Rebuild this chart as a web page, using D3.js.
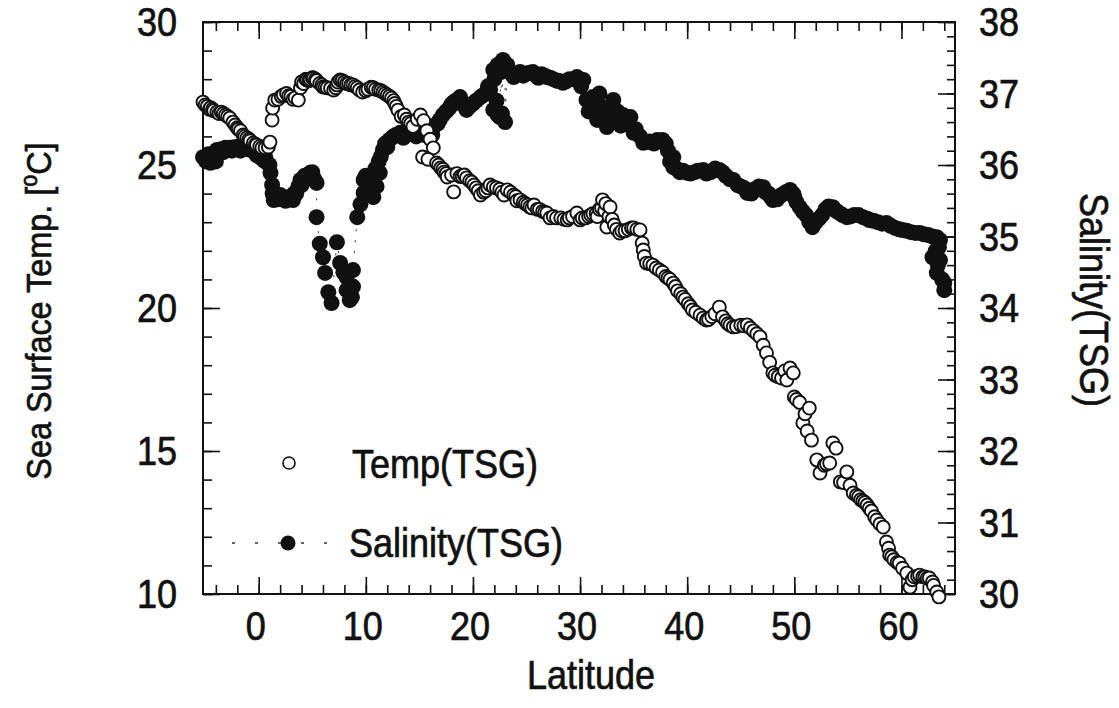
<!DOCTYPE html>
<html><head><meta charset="utf-8">
<script src="https://cdn.jsdelivr.net/npm/d3@7"></script>
<style>
html,body{margin:0;padding:0;background:#fff;}
svg{display:block;}
text{font-family:"Liberation Sans",Arial,Helvetica,sans-serif;fill:#111;stroke:#111;stroke-width:0.7px;}
</style></head><body>
<svg id="chart" width="1119" height="708"></svg>
<script>
// ---------- data ----------
const latTicks = [0, 10, 20, 30, 40, 50, 60];
const tempTicks = [10, 15, 20, 25, 30];
const salTicks = [30, 31, 32, 33, 34, 35, 36, 37, 38];

// [latitude, sea surface temperature °C]
const tempSeries = [[-5.2,27.2],[-5.0,27.1],[-4.8,27.05],[-4.6,26.95],[-4.5,27.0],[-4.3,26.95],[-4.2,26.9],[-3.9,26.85],[-3.7,26.8],[-3.5,26.85],[-3.3,26.8],[-3.1,26.75],[-2.9,26.7],[-2.7,26.64],[-2.4,26.5],[-2.2,26.4],[-2.0,26.3],[-1.9,26.25],[-1.7,26.2],[-1.45,26.05],[-1.3,26.0],[-1.1,25.95],[-0.9,25.9],[-0.8,25.85],[-0.5,25.77],[-0.3,25.72],[-0.2,25.7],[0.1,25.65],[0.3,25.6],[0.6,25.6],[0.9,25.63],[1.05,25.8],[1.25,26.57],[1.3,26.99],[1.5,27.27],[1.8,27.3],[2.1,27.4],[2.3,27.45],[2.6,27.5],[2.8,27.42],[3.0,27.4],[3.2,27.3],[3.4,27.35],[3.7,27.27],[3.9,27.7],[4.0,27.9],[4.2,27.85],[4.4,28.0],[4.5,27.97],[4.7,27.95],[4.8,28.0],[5.0,28.05],[5.1,28.04],[5.3,28.0],[5.4,27.95],[5.7,27.85],[5.9,27.8],[6.0,27.73],[6.2,27.72],[6.4,27.7],[6.7,27.68],[7.0,27.62],[7.2,27.7],[7.3,27.8],[7.4,27.9],[7.6,27.97],[7.8,27.95],[8.0,27.9],[8.2,27.85],[8.4,27.85],[8.6,27.8],[8.8,27.8],[9.0,27.75],[9.2,27.7],[9.4,27.62],[9.7,27.55],[10.0,27.6],[10.2,27.65],[10.5,27.72],[10.7,27.7],[10.9,27.65],[11.2,27.62],[11.4,27.6],[11.6,27.55],[11.8,27.5],[12.0,27.45],[12.2,27.4],[12.4,27.34],[12.6,27.25],[12.7,27.15],[12.85,27.05],[13.0,26.92],[13.3,26.7],[13.6,26.75],[13.8,26.6],[14.0,26.5],[14.2,26.45],[14.4,26.35],[14.8,26.6],[15.1,26.75],[15.4,26.55],[15.7,26.2],[16.0,25.9],[16.3,25.6],[15.3,25.28],[15.8,25.2],[16.6,25.07],[16.8,25.0],[17.0,24.9],[17.2,24.85],[17.3,24.75],[17.5,24.7],[17.6,24.58],[18.0,24.65],[18.2,24.06],[18.5,24.7],[18.8,24.6],[19.0,24.6],[19.2,24.65],[19.4,24.55],[19.7,24.45],[19.9,24.4],[20.1,24.3],[20.3,24.2],[20.5,24.1],[20.7,23.95],[21.0,24.05],[21.2,24.1],[21.4,24.2],[21.6,24.3],[21.9,24.23],[22.2,24.2],[22.5,24.15],[22.7,24.05],[22.9,23.95],[23.2,24.13],[23.5,24.05],[23.8,23.95],[24.0,23.9],[24.1,23.75],[24.4,23.78],[24.7,23.7],[24.9,23.65],[25.1,23.6],[25.3,23.53],[25.5,23.5],[25.7,23.6],[26.0,23.45],[26.2,23.45],[26.5,23.38],[26.7,23.35],[26.9,23.32],[27.2,23.15],[27.5,23.2],[27.8,23.15],[28.2,23.15],[28.5,23.1],[28.8,23.08],[29.0,23.15],[29.3,23.2],[29.7,23.32],[30.0,23.08],[30.2,23.15],[30.5,23.15],[30.8,23.2],[31.0,23.25],[31.2,23.3],[31.5,23.3],[31.6,23.2],[31.8,23.45],[32.0,23.5],[32.1,23.78],[32.3,23.4],[32.4,23.65],[32.5,22.83],[32.7,23.2],[32.8,23.53],[33.0,23.1],[33.2,22.9],[33.4,22.75],[33.7,22.62],[33.9,22.7],[34.2,22.7],[34.5,22.75],[34.8,22.8],[35.0,22.8],[35.3,22.75],[35.6,22.73],[35.8,22.27],[35.9,22.03],[36.0,21.8],[36.2,21.57],[36.5,21.55],[36.8,21.5],[37.1,21.4],[37.4,21.33],[37.7,21.25],[38.0,21.1],[38.2,21.05],[38.4,21.0],[38.7,20.87],[38.9,20.75],[39.1,20.6],[39.4,20.5],[39.6,20.38],[39.8,20.3],[40.1,20.15],[40.3,20.05],[40.5,19.93],[40.8,19.85],[41.2,19.75],[41.5,19.65],[41.8,19.58],[42.0,19.6],[42.3,19.7],[42.6,19.8],[43.0,20.03],[43.3,19.69],[43.6,19.55],[43.8,19.45],[44.0,19.4],[44.3,19.34],[44.6,19.35],[45.0,19.4],[45.3,19.38],[45.6,19.41],[45.9,19.3],[46.2,19.2],[46.5,19.1],[46.8,18.99],[47.1,18.7],[47.4,18.43],[47.7,18.1],[48.0,17.73],[48.2,17.65],[48.5,17.6],[48.8,17.55],[49.1,17.8],[49.3,17.48],[49.6,17.9],[49.9,17.73],[50.0,16.89],[50.2,16.8],[50.5,16.7],[50.8,15.98],[51.0,16.3],[51.2,15.7],[51.4,16.5],[51.6,15.38],[52.1,14.69],[52.4,14.23],[52.8,14.5],[53.0,14.55],[53.3,14.58],[53.6,15.28],[53.9,15.1],[54.3,13.92],[54.6,13.9],[54.9,14.27],[55.2,13.8],[55.5,13.53],[55.8,13.45],[56.0,13.4],[56.2,13.3],[56.4,13.25],[56.6,13.2],[56.8,13.11],[57.0,13.0],[57.2,12.9],[57.5,12.7],[57.7,12.59],[58.0,12.45],[58.3,12.34],[58.6,11.82],[58.8,11.6],[58.9,11.36],[59.1,11.3],[59.3,11.2],[59.6,11.1],[59.8,11.08],[60.1,10.9],[60.5,10.73],[60.8,10.24],[61.0,10.5],[61.2,10.6],[61.5,10.62],[61.7,10.66],[62.0,10.6],[62.2,10.6],[62.4,10.55],[62.6,10.56],[62.9,10.42],[63.0,10.3],[63.3,10.07],[63.5,9.9]];

// [latitude, salinity]
const salSeries = [[-5.2,36.11],[-4.9,36.05],[-4.7,36.15],[-4.5,36.03],[-4.2,36.12],[-4.0,36.05],[-3.9,36.21],[-3.5,36.22],[-3.3,36.18],[-3.1,36.24],[-2.7,36.24],[-2.5,36.2],[-2.3,36.25],[-1.9,36.26],[-1.7,36.2],[-1.4,36.24],[-1.2,36.28],[-1.0,36.22],[-0.6,36.2],[-0.4,36.25],[-0.2,36.14],[0.0,36.18],[0.2,36.1],[0.5,36.06],[0.6,36.12],[0.8,36.03],[1.0,36.0],[1.1,35.89],[1.25,35.72],[1.3,35.6],[1.4,35.51],[1.5,35.6],[1.8,35.52],[2.0,35.58],[2.3,35.55],[2.5,35.5],[2.7,35.52],[3.0,35.56],[3.2,35.51],[3.3,35.6],[3.5,35.6],[3.7,35.7],[3.9,35.79],[4.0,35.72],[4.3,35.85],[4.5,35.82],[4.8,35.89],[5.0,35.9],[5.1,35.82],[5.2,35.8],[5.4,35.75],[5.4,35.27],[5.7,34.9],[6.0,34.71],[6.2,34.49],[6.5,34.22],[6.8,34.07],[7.3,34.92],[7.6,34.63],[7.9,34.5],[8.2,34.43],[8.2,34.25],[8.5,34.11],[8.7,34.15],[8.8,34.3],[8.8,34.53],[9.2,35.27],[9.5,35.45],[9.8,35.61],[9.8,35.79],[10.0,35.85],[10.2,35.7],[10.5,35.8],[10.7,35.55],[10.9,35.95],[11.0,35.7],[11.2,36.05],[11.3,35.89],[11.4,36.12],[11.6,36.21],[11.8,36.3],[12.0,36.25],[12.2,36.35],[12.5,36.39],[12.8,36.42],[13.2,36.45],[13.5,36.38],[13.8,36.48],[14.0,36.55],[14.4,36.49],[14.7,36.4],[15.0,36.47],[15.2,36.55],[15.5,36.42],[15.8,36.5],[16.0,36.45],[16.2,36.42],[16.4,36.55],[16.7,36.58],[16.9,36.63],[17.2,36.7],[17.5,36.75],[17.8,36.8],[18.0,36.85],[18.2,36.88],[18.5,36.91],[18.8,36.95],[19.0,36.85],[19.4,36.77],[19.7,36.82],[20.0,36.86],[20.3,36.9],[20.7,36.95],[21.0,36.98],[21.2,37.0],[21.4,37.1],[21.6,37.05],[21.9,37.33],[22.0,37.2],[22.3,37.4],[22.6,37.3],[22.8,37.47],[23.0,37.42],[23.2,37.4],[23.4,37.3],[21.9,36.77],[22.2,36.9],[22.3,36.7],[22.5,36.67],[22.7,36.72],[23.0,36.6],[23.8,37.23],[24.0,37.28],[24.4,37.3],[24.7,37.25],[25.0,37.28],[25.3,37.29],[25.6,37.3],[25.9,37.25],[26.1,37.22],[26.4,37.27],[26.7,37.25],[26.9,37.23],[27.2,37.22],[27.5,37.2],[27.8,37.18],[28.0,37.18],[28.4,37.15],[28.7,37.17],[29.0,37.2],[29.4,37.2],[29.7,37.23],[30.0,37.2],[30.1,37.1],[30.3,37.19],[30.6,36.91],[30.8,36.75],[31.0,36.85],[31.2,36.95],[31.6,36.63],[31.8,37.0],[32.0,36.7],[32.2,36.8],[32.5,36.53],[32.8,36.65],[33.1,36.91],[33.3,36.6],[33.5,36.75],[33.8,36.55],[34.0,36.7],[34.4,36.6],[34.7,36.67],[35.0,36.45],[35.2,36.5],[35.6,36.4],[35.9,36.31],[36.2,36.32],[36.5,36.33],[36.9,36.3],[37.2,36.35],[37.5,36.33],[37.7,36.35],[38.0,36.3],[38.2,36.2],[38.4,36.05],[38.7,36.11],[38.7,35.97],[39.0,35.95],[39.3,35.9],[39.6,35.92],[40.0,35.89],[40.3,35.88],[40.7,35.9],[41.0,35.92],[41.5,35.93],[41.8,35.88],[42.2,35.9],[42.6,35.95],[43.0,35.93],[43.3,35.9],[43.6,35.85],[44.0,35.8],[44.3,35.79],[44.7,35.72],[45.0,35.7],[45.3,35.68],[45.6,35.61],[46.0,35.6],[46.3,35.66],[46.7,35.7],[47.1,35.69],[47.3,35.62],[47.6,35.6],[47.8,35.55],[48.0,35.51],[48.4,35.52],[48.8,35.58],[49.2,35.62],[49.6,35.65],[49.9,35.6],[50.0,35.55],[50.2,35.48],[50.5,35.41],[50.8,35.35],[51.1,35.3],[51.4,35.2],[51.7,35.13],[52.0,35.2],[52.3,35.25],[52.6,35.3],[52.9,35.38],[53.2,35.42],[53.6,35.41],[53.9,35.36],[54.2,35.33],[54.5,35.3],[54.9,35.27],[55.2,35.28],[55.6,35.3],[56.0,35.3],[56.4,35.27],[56.8,35.25],[57.0,35.23],[57.4,35.22],[57.8,35.2],[58.2,35.18],[58.6,35.19],[59.0,35.15],[59.4,35.12],[59.8,35.1],[60.1,35.09],[60.5,35.08],[60.9,35.06],[61.3,35.05],[61.7,35.05],[62.1,35.03],[62.5,35.02],[62.9,35.0],[63.3,34.99],[63.6,34.95],[63.5,34.85],[63.2,34.8],[62.9,34.71],[63.6,34.67],[63.4,34.6],[63.3,34.49],[63.8,34.4],[64.0,34.35],[64.0,34.25]];

// ---------- chart ----------
const svg = d3.select("#chart");
const L = 203, R = 955, T = 22, B = 594;
const x = d3.scaleLinear().domain([-5.2, 65]).range([L, R]);
const yT = d3.scaleLinear().domain([10, 30]).range([B, T]);
const yS = d3.scaleLinear().domain([30, 38]).range([B, T]);

const SX = 0.9; // condensed look of the original lettering
function txt(g, x0, y0, s, size, anchor, rot) {
  return g.append("text")
    .attr("transform", `translate(${x0},${y0}) rotate(${rot || 0}) scale(${SX},1)`)
    .attr("font-size", size).attr("text-anchor", anchor || "start").text(s);
}

function tickAxis(axisFn, scale, vals, size, tr) {
  const g = svg.append("g").attr("transform", tr)
    .call(axisFn(scale).tickValues(vals).tickSizeInner(-size).tickSizeOuter(0).tickFormat(""));
  g.select(".domain").remove();
  g.selectAll("line").attr("stroke", "#111").attr("stroke-width", 1.6);
}
const xMinor = d3.range(-4, 65, 2);
tickAxis(d3.axisBottom, x, xMinor, 9, `translate(0,${B})`);
tickAxis(d3.axisBottom, x, latTicks, 17, `translate(0,${B})`);
tickAxis(d3.axisTop, x, xMinor, 9, `translate(0,${T})`);
tickAxis(d3.axisTop, x, latTicks, 17, `translate(0,${T})`);
tickAxis(d3.axisLeft, yT, d3.range(10, 31, 1), 9, `translate(${L},0)`);
tickAxis(d3.axisLeft, yT, tempTicks, 17, `translate(${L},0)`);
tickAxis(d3.axisRight, yS, d3.range(0, 41).map(i => 30 + i * 0.2), 8, `translate(${R},0)`);
tickAxis(d3.axisRight, yS, salTicks, 17, `translate(${R},0)`);

svg.append("rect").attr("x", L).attr("y", T).attr("width", R - L).attr("height", B - T)
  .attr("fill", "none").attr("stroke", "#111").attr("stroke-width", 2);

// tick labels
const lab = svg.append("g");
latTicks.forEach(v => txt(lab, x(v) - 3, 640, String(v), 40, "middle"));
tempTicks.forEach(v => txt(lab, 177, yT(v) + 14, String(v), 40, "end"));
salTicks.forEach(v => txt(lab, 979, yS(v) + 14, String(v), 40, "start"));

// axis titles
txt(svg, 591, 689, "Latitude", 40, "middle");
const lt = svg.append("text")
  .attr("transform", `translate(51,311) rotate(-90) scale(${SX},1)`)
  .attr("font-size", 36).attr("text-anchor", "middle");
lt.append("tspan").text("Sea Surface Temp. [");
lt.append("tspan").attr("font-size", 24).attr("dy", -14).text("o");
lt.append("tspan").attr("dy", 14).text("C]");
txt(svg, 1080, 300, "Salinity(TSG)", 40, "middle", 90);

// data
const plot = svg.append("g");
plot.append("path").datum(d3.sort(salSeries, d => d[0]))
  .attr("d", d3.line().x(d => x(d[0])).y(d => yS(d[1])))
  .attr("fill", "none").attr("stroke", "#333").attr("stroke-width", 1)
  .attr("stroke-dasharray", "2,9");
plot.selectAll("circle.sal").data(salSeries).join("circle").attr("class", "sal")
  .attr("cx", d => x(d[0])).attr("cy", d => yS(d[1])).attr("r", 8)
  .attr("fill", "#111");
plot.selectAll("circle.tmp").data(tempSeries).join("circle").attr("class", "tmp")
  .attr("cx", d => x(d[0])).attr("cy", d => yT(d[1])).attr("r", 6.5)
  .attr("fill", "#fff").attr("stroke", "#111").attr("stroke-width", 1.9);

// legend
const lg = svg.append("g");
lg.append("circle").attr("cx", 289).attr("cy", 463).attr("r", 6).attr("fill", "#fff")
  .attr("stroke", "#111").attr("stroke-width", 1.6);
txt(lg, 352, 478, "Temp(TSG)", 40, "start");
lg.append("line").attr("x1", 232).attr("x2", 336).attr("y1", 543).attr("y2", 543)
  .attr("stroke", "#333").attr("stroke-width", 1.5).attr("stroke-dasharray", "3,20");
lg.append("circle").attr("cx", 288).attr("cy", 543).attr("r", 7.5).attr("fill", "#111");
txt(lg, 349, 557, "Salinity(TSG)", 40, "start");
</script>
</body></html>
